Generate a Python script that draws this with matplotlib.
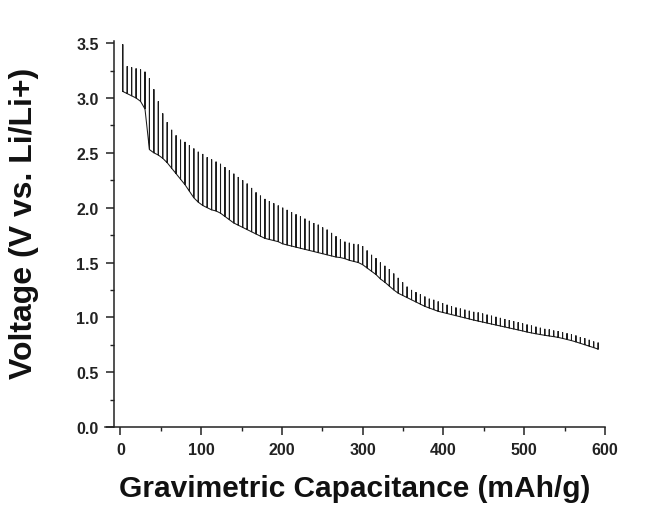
import matplotlib
matplotlib.use("Agg")
import matplotlib.pyplot as plt
from matplotlib.ticker import MultipleLocator

plt.rcParams['font.family'] = ['Liberation Sans', 'DejaVu Sans']

# Capacity at the end of each titration pulse (mAh/g)
pulse_capacity = [
    3, 8.5, 14, 19.5, 25, 30.5, 36, 41.5, 47, 52.5,
    58, 63.5, 69, 74.5, 80, 85.5, 91, 96.5, 102, 107.5,
    113, 118.5, 124, 129.5, 135, 140.5, 146, 151.5, 157, 162.5,
    168, 173.5, 179, 184.5, 190, 195.5, 201, 206.5, 212, 217.5,
    223, 228.5, 234, 239.5, 245, 250.5, 256, 261.5, 267, 272.5,
    278, 283.5, 289, 294.5, 300, 305.5, 311, 316.5, 322, 327.5,
    333, 338.5, 344, 349.5, 355, 360.5, 366, 371.5, 377, 382.5,
    388, 393.5, 399, 404.5, 410, 415.5, 421, 426.5, 432, 437.5,
    443, 448.5, 454, 459.5, 465, 470.5, 476, 481.5, 487, 492.5,
    498, 503.5, 509, 514.5, 520, 525.5, 531, 536.5, 542, 547.5,
    553, 558.5, 564, 569.5, 575, 580.5, 586, 591.5,
]

# Relaxed (open-circuit) voltage after each rest period (V)
relaxed_voltage = [
    3.49, 3.29, 3.28, 3.27, 3.26, 3.24, 3.18, 3.08, 2.97, 2.86,
    2.78, 2.71, 2.66, 2.62, 2.60, 2.57, 2.54, 2.51, 2.49, 2.46,
    2.44, 2.42, 2.40, 2.37, 2.34, 2.31, 2.28, 2.25, 2.22, 2.18,
    2.14, 2.11, 2.08, 2.06, 2.04, 2.02, 2.00, 1.98, 1.96, 1.94,
    1.92, 1.90, 1.88, 1.86, 1.845, 1.82, 1.80, 1.77, 1.74, 1.71,
    1.69, 1.68, 1.67, 1.665, 1.65, 1.61, 1.57, 1.54, 1.50, 1.47,
    1.44, 1.40, 1.36, 1.32, 1.28, 1.25, 1.23, 1.21, 1.19, 1.17,
    1.16, 1.145, 1.13, 1.115, 1.10, 1.09, 1.08, 1.07, 1.06, 1.05,
    1.045, 1.035, 1.025, 1.015, 1.005, 0.995, 0.985, 0.975, 0.965, 0.955,
    0.945, 0.935, 0.925, 0.915, 0.905, 0.895, 0.89, 0.88, 0.875, 0.865,
    0.855, 0.845, 0.835, 0.82, 0.81, 0.795, 0.78, 0.77,
]

# Voltage at the end of each current pulse (V)
pulse_end_voltage = [
    3.06, 3.04, 3.02, 3.00, 2.97, 2.90, 2.53, 2.50, 2.48, 2.45,
    2.41, 2.36, 2.31, 2.26, 2.21, 2.15, 2.09, 2.05, 2.02, 2.00,
    1.98, 1.97, 1.95, 1.92, 1.89, 1.86, 1.84, 1.82, 1.80, 1.78,
    1.76, 1.74, 1.72, 1.71, 1.70, 1.69, 1.67, 1.66, 1.65, 1.64,
    1.63, 1.62, 1.61, 1.60, 1.59, 1.58, 1.57, 1.56, 1.55, 1.545,
    1.535, 1.52, 1.51, 1.50, 1.48, 1.45, 1.42, 1.39, 1.35, 1.32,
    1.285, 1.25, 1.22, 1.20, 1.18, 1.16, 1.14, 1.12, 1.10, 1.085,
    1.07, 1.055, 1.045, 1.035, 1.025, 1.015, 1.005, 0.995, 0.985, 0.975,
    0.966, 0.957, 0.948, 0.939, 0.930, 0.921, 0.912, 0.903, 0.894, 0.885,
    0.876, 0.866, 0.858, 0.850, 0.843, 0.836, 0.830, 0.824, 0.817, 0.808,
    0.798, 0.788, 0.776, 0.763, 0.750, 0.737, 0.724, 0.71,
]

x_ticks = [0, 100, 200, 300, 400, 500, 600]
y_ticks = [0.0, 0.5, 1.0, 1.5, 2.0, 2.5, 3.0, 3.5]

fig = plt.figure(figsize=(6.53, 5.06), dpi=100)
ax = fig.add_axes([105 / 653, 78 / 506, 500 / 653, 386 / 506])

# Build the titration trace: pulse (slope down) then rest (vertical rise)
xs, ys = [], []
for c, lo, hi in zip(pulse_capacity, pulse_end_voltage, relaxed_voltage):
    xs += [c, c, c]
    ys += [lo, hi, lo]
ax.plot(xs, ys, color='#1a1a1a', lw=0.75, solid_joinstyle='miter')

ax.set_xlim(-19, 600)
ax.set_ylim(0, 3.52)
ax.spines['top'].set_visible(False)
ax.spines['right'].set_visible(False)
ax.spines['left'].set_position(('data', -8))
for s in ('left', 'bottom'):
    ax.spines[s].set_linewidth(1.1)
    ax.spines[s].set_color('#222222')

ax.set_xticks(x_ticks)
ax.set_yticks(y_ticks)
ax.set_yticklabels([f"{v:.1f}" for v in y_ticks])
ax.xaxis.set_minor_locator(MultipleLocator(50))
ax.yaxis.set_minor_locator(MultipleLocator(0.25))
ax.tick_params(which='major', direction='out', length=6, width=1.1,
               labelsize=11.5, colors='#222222', pad=5)
ax.tick_params(which='minor', direction='out', length=3, width=1.0,
               colors='#222222')
for lab in ax.get_xticklabels() + ax.get_yticklabels():
    lab.set_fontweight('bold')
    lab.set_color('#222222')

ax.set_xlabel('Gravimetric Capacitance (mAh/g)', fontsize=21.5,
              fontweight='bold', color='#111111', labelpad=12)
ax.set_ylabel('Voltage (V vs. Li/Li+)', fontsize=23, fontweight='bold',
              color='#111111')
ax.yaxis.set_label_coords(-0.132, 0.531)

fig.savefig('out.png', dpi=100)
